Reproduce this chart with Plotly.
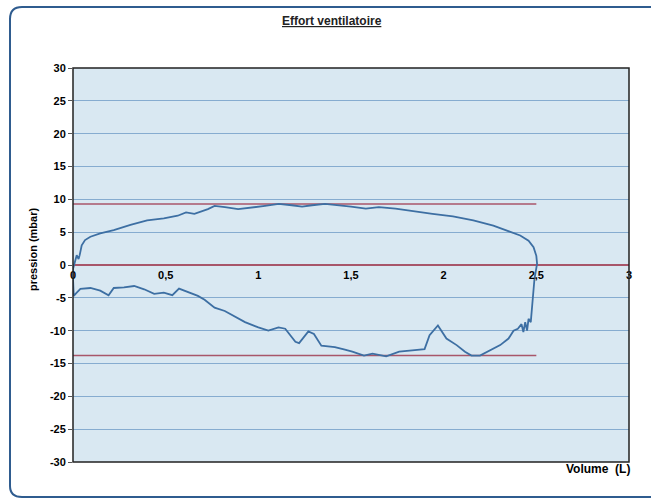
import plotly.graph_objects as go

# Loop: inspiration (lower branch) from 0 to 2.5 L, then expiration (upper branch) back to 0
volume = [0.0, 0.004, 0.02, 0.04, 0.094, 0.147, 0.192, 0.22, 0.275, 0.33, 0.384, 0.438, 0.49,
          0.536, 0.572, 0.62, 0.674, 0.71, 0.764, 0.819, 0.873, 0.928, 1.0, 1.054, 1.109,
          1.145, 1.2, 1.22, 1.27, 1.3, 1.34, 1.413, 1.467, 1.507, 1.57, 1.616, 1.69, 1.76,
          1.83, 1.897, 1.924, 1.969, 2.015, 2.07, 2.115, 2.15, 2.196, 2.25, 2.305, 2.35,
          2.377, 2.4, 2.42, 2.43, 2.44, 2.45, 2.458, 2.47, 2.48, 2.49, 2.504,
          2.5, 2.485, 2.458, 2.413, 2.34, 2.268, 2.16, 2.05, 1.94, 1.83, 1.74, 1.65,
          1.58, 1.5, 1.43, 1.36, 1.29, 1.236, 1.18, 1.11, 1.036, 0.964, 0.891, 0.82,
          0.764, 0.728, 0.69, 0.655, 0.61, 0.565, 0.49, 0.4, 0.31, 0.22, 0.147, 0.094,
          0.065, 0.047, 0.036, 0.03, 0.02, 0.01, 0.0, 0.0]
pression = [-2.1, -4.7, -4.2, -3.65, -3.5, -3.9, -4.6, -3.5, -3.4, -3.2, -3.7, -4.4, -4.2,
            -4.6, -3.6, -4.1, -4.7, -5.3, -6.5, -7.0, -7.8, -8.7, -9.5, -10.0, -9.5,
            -9.7, -11.7, -11.9, -10.1, -10.5, -12.3, -12.5, -12.9, -13.2, -13.8, -13.5, -13.9, -13.2,
            -13.0, -12.8, -10.7, -9.2, -11.2, -12.2, -13.2, -13.8, -13.8, -13.0, -12.2, -11.2,
            -10.0, -9.7, -9.0, -10.2, -8.7, -10.0, -8.2, -8.7, -5.7, -2.1, 0.2,
            1.4, 2.7, 3.7, 4.5, 5.2, 6.0, 6.8, 7.4, 7.8, 8.3, 8.6, 8.8,
            8.6, 8.9, 9.1, 9.3, 9.1, 8.9, 9.1, 9.3, 9.0, 8.8, 8.5, 8.8,
            9.0, 8.5, 8.1, 7.8, 8.0, 7.5, 7.1, 6.8, 6.1, 5.3, 4.8, 4.3,
            3.8, 3.0, 1.5, 0.9, 1.5, 0.2, -0.6, -2.1]

# reference limit lines
limit_x = [0, 2.5]
limit_haut = [9.3, 9.3]
limit_bas = [-13.8, -13.8]

x_ticks = [0, 0.5, 1, 1.5, 2, 2.5, 3]
y_ticks = [30, 25, 20, 15, 10, 5, 0, -5, -10, -15, -20, -25, -30]
y_tick_labels = ["30", "25", "20", "15", "10", "5", "0", "-5", "-10", "-15", "-20", "-25", "-30"]

RED = "#a8566a"
BLUE = "#3d6fa3"
FONT = "Liberation Sans, Arial, sans-serif"

fig = go.Figure()
fig.add_trace(go.Scatter(x=limit_x, y=limit_haut, mode="lines",
                         line=dict(color=RED, width=1.5), hoverinfo="skip", showlegend=False))
fig.add_trace(go.Scatter(x=limit_x, y=limit_bas, mode="lines",
                         line=dict(color=RED, width=1.5), hoverinfo="skip", showlegend=False))
fig.add_trace(go.Scatter(x=volume, y=pression, mode="lines",
                         line=dict(color=BLUE, width=1.8), showlegend=False))

W, H = 651, 500
L, R, T, B = 73, 22, 68, 38
pw, ph = W - L - R, H - T - B


def px(x):
    return (x - L) / pw


def py(y):
    return (H - B - y) / ph


fig.update_layout(
    width=W, height=H,
    margin=dict(l=L, r=R, t=T, b=B),
    paper_bgcolor="white",
    plot_bgcolor="#d9e8f2",
    separators=", ",
    font=dict(family=FONT, size=11, color="black"),
    xaxis=dict(range=[0, 3], tickvals=x_ticks, anchor="free", position=0.5,
               showgrid=False, zeroline=False, showline=False,
               ticks="", tickfont=dict(family=FONT, size=11, color="black", weight="bold"),
               ticklabelstandoff=2, fixedrange=True),
    yaxis=dict(range=[-30, 30], tickvals=y_ticks, ticktext=y_tick_labels,
               showgrid=True, gridcolor="#86acd0",
               gridwidth=1, zeroline=True, zerolinecolor=RED, zerolinewidth=2,
               ticks="outside", ticklen=4, tickcolor="#555",
               tickfont=dict(family=FONT, size=11, color="black", weight="bold"),
               showline=False, fixedrange=True),
    shapes=[
        dict(type="rect", xref="paper", yref="paper", x0=0, x1=1, y0=0, y1=1,
             line=dict(color="#222", width=1.5), layer="above"),
        dict(type="path", xref="paper", yref="paper",
             path=(f"M {px(700)} {py(7)} L {px(22)} {py(7)} "
                   f"Q {px(10)} {py(7)} {px(10)} {py(19)} "
                   f"L {px(10)} {py(486)} Q {px(10)} {py(497)} {px(22)} {py(497)} "
                   f"L {px(700)} {py(497)}"),
             line=dict(color="#2f5c8f", width=2)),
    ],
    annotations=[
        dict(text="<u><b>Effort ventilatoire</b></u>", xref="paper", yref="paper",
             x=px(332), y=py(21), showarrow=False, xanchor="center", yanchor="middle",
             font=dict(family=FONT, size=12, color="#222")),
        dict(text="<b>pression (mbar)</b>", xref="paper", yref="paper", textangle=-90,
             x=px(33), y=py(250), showarrow=False, xanchor="center", yanchor="middle",
             font=dict(family=FONT, size=11, color="black")),
        dict(text="<b>Volume  (L)</b>", xref="paper", yref="paper",
             x=px(598), y=py(469), showarrow=False, xanchor="center", yanchor="middle",
             font=dict(family=FONT, size=12, color="black")),
    ],
)

fig.write_html("out.html", config={"displayModeBar": False},
               post_script="document.body.style.margin='0px';")
